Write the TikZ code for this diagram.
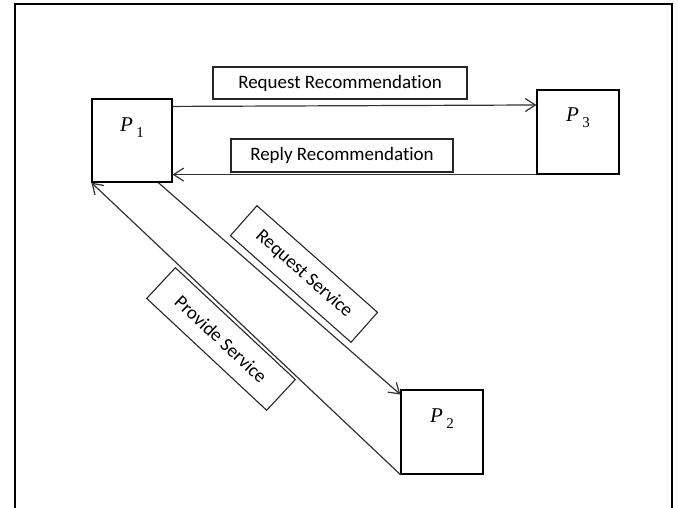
\documentclass[tikz,border=0pt]{standalone}
\usepackage{fontspec}
\setmainfont{Carlito}[Ligatures=NoCommon]
\newfontfamily\pfont{Liberation Serif}
\newcommand{\pname}[1]{{\pfont\itshape P}\,\raisebox{-0.28em}{\pfont\fontsize{15}{17}\selectfont #1}}
\usetikzlibrary{arrows.meta,calc}
\begin{document}
\begin{tikzpicture}[x=1pt,y=-1pt,
  pbox/.style={draw=black,line width=1.2pt,minimum width=80pt,minimum height=83pt,inner sep=0pt},
  tagbox/.style={draw=black!85,line width=1.1pt,inner sep=0pt,font=\fontsize{19}{22}\selectfont},
  conn/.style={draw=black!80,line width=1.2pt},
  arr/.style={conn,-{Straight Barb[length=10pt,width=13pt,line width=1.2pt]}},
  plabel/.style={font=\fontsize{21}{24}\selectfont}]
\useasboundingbox (0,0) rectangle (678,508);
% frame
\draw[line width=2pt] (15,508) -- (15,4) -- (672,4) -- (672,508);
% process boxes
\node[pbox,minimum width=80pt,minimum height=83pt,label={[plabel,yshift=13pt]center:\pname{1}}] (P1) at (132,140.5) {};
\node[pbox,minimum width=82pt,minimum height=84pt,label={[plabel,yshift=14pt]center:\pname{3}}] (P3) at (578,132) {};
\node[pbox,minimum width=82pt,minimum height=84pt,label={[plabel,yshift=13pt]center:\pname{2}}] (P2) at (442,432) {};
% connectors
\draw[arr] (P1.40.8) -- (P3.147.6);
\draw[arr] (P3.south west) -- (P3.south west -| P1.east);
\draw[arr] (P1.-58) -- (P2.138.7);
\draw[arr] (P2.south west) -- (P1.south west);
% labels
\node[tagbox,minimum width=254pt,minimum height=32pt] (lreq) at (340,83) {Request Recommendation};
\node[tagbox,minimum width=222pt,minimum height=33pt] (lrep) at (342,155.5) {Reply Recommendation};
\node[tagbox,minimum width=161pt,minimum height=40pt,rotate=-41.5] (lrs) at (304,274) {Request Service};
\node[tagbox,minimum width=164pt,minimum height=42pt,rotate=-43] (lps) at (221,339) {Provide Service};
\end{tikzpicture}
\end{document}
